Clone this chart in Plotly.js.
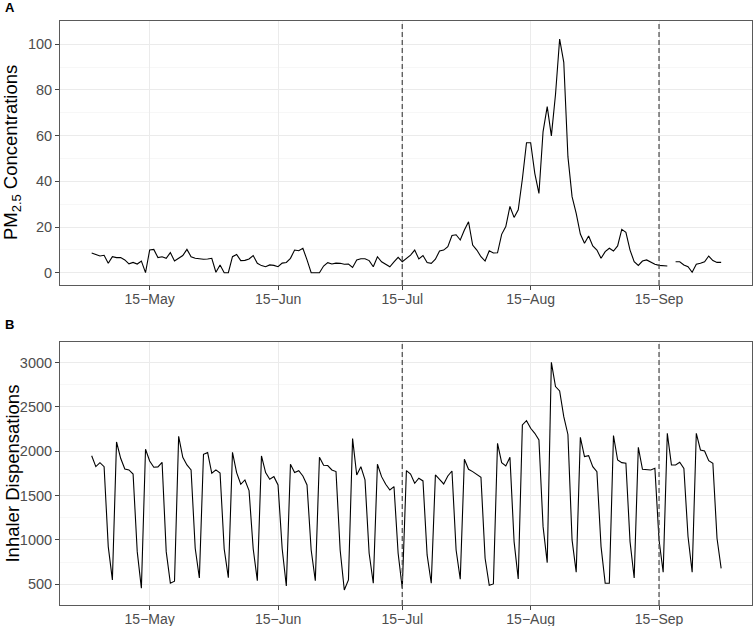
<!DOCTYPE html>
<html>
<head>
<meta charset="utf-8">
<script src="https://cdn.plot.ly/plotly-3.0.1.min.js"></script>
<style>
  html, body { margin: 0; padding: 0; background: #fff; }
  #chart { width: 756px; height: 626px; }
</style>
</head>
<body>
<div id="chart"></div>
<script>
// daily series, 1 May - 30 Sep 2015 (one value per day)
const startDate = '2015-05-01';

const pm25 = [
  8.6, 8.0, 7.3, 7.6, 4.1, 7.0, 6.6, 6.6, 5.6, 3.9, 4.5, 3.8, 5.1, 0, 9.9, 10.2, 6.6, 7.0, 6.3, 8.8,
  5.1, 6.3, 7.5, 10.2, 7.0, 6.3, 6.0, 5.9, 6.0, 6.3, 0.2, 3.4, 0, 0, 7.0, 8.0, 5.3, 5.4, 6.0, 7.5,
  4.1, 3.1, 2.6, 3.4, 3.2, 2.6, 4.2, 4.5, 6.3, 9.9, 9.6, 10.7, 5.6, 0, 0, 0, 2.9, 4.4, 3.8, 4.2,
  4.1, 3.7, 3.8, 2.3, 5.6, 6.1, 6.1, 5.3, 2.6, 7.0, 4.8, 3.8, 2.6, 4.7, 6.7, 4.8, 6.3, 7.7, 9.9, 6.0,
  7.5, 4.5, 4.1, 5.9, 9.5, 9.9, 11.4, 16.3, 16.6, 14.3, 18.7, 22.3, 12.1, 9.9, 7.0, 5.1, 9.6, 8.6, 8.7, 16.8,
  20.2, 29.0, 24.2, 27.5, 41.0, 56.9, 56.9, 43.5, 34.7, 61.8, 72.7, 59.9, 78.0, 102.3, 92.1, 50.8, 33.3, 26.0, 16.9, 12.9,
  16.1, 11.7, 9.9, 6.3, 9.2, 10.7, 9.5, 11.7, 19.0, 17.7, 9.9, 4.8, 3.2, 5.1, 5.6, 4.5, 3.7, 3.2, 3.0, 2.9,
  null, 4.8, 4.8, 3.4, 2.6, 0.2, 3.7, 4.1, 4.8, 7.3, 5.3, 4.5, 4.5
];

const inhaler = [
  1950, 1827, 1872, 1827, 925, 549, 2105, 1921, 1801, 1790, 1744, 868, 455, 2023, 1891, 1820, 1824, 1876, 868, 511,
  534, 2169, 1932, 1846, 1790, 906, 571, 1966, 1985, 1752, 1790, 1756, 898, 575, 1989, 1760, 1628, 1677, 1556, 900,
  541, 1948, 1760, 1684, 1714, 1620, 900, 481, 1854, 1760, 1782, 1722, 1620, 887, 541, 1932, 1842, 1839, 1790, 1771,
  887, 436, 549, 2143, 1733, 1827, 1677, 850, 511, 1854, 1714, 1628, 1564, 1602, 850, 455, 1782, 1744, 1639, 1696,
  1666, 831, 511, 1733, 1684, 1632, 1722, 1778, 887, 556, 1910, 1797, 1771, 1741, 1707, 793, 489, 504, 2090, 1872,
  1835, 1932, 981, 560, 2297, 2346, 2260, 2203, 2128, 1150, 744, 3004, 2730, 2681, 2391, 2190, 1000, 635, 2158, 1940,
  1951, 1827, 1771, 925, 511, 511, 2177, 1902, 1872, 1865, 981, 571, 2045, 1797, 1790, 1790, 1808, 1000, 635, 2203,
  1846, 1846, 1876, 1808, 1038, 635, 2203, 2015, 2004, 1895, 1865, 1019, 680
];

const tickDates = ['2015-05-15', '2015-06-15', '2015-07-15', '2015-08-15', '2015-09-15'];
const tickLabels = ['15\u2212May', '15\u2212Jun', '15\u2212Jul', '15\u2212Aug', '15\u2212Sep'];
const markerDates = ['2015-07-15', '2015-09-15'];

function dayList(start, n) {
  const out = [];
  const d0 = new Date(start + 'T00:00:00Z');
  for (let i = 0; i < n; i++) {
    const d = new Date(d0.getTime() + i * 86400000);
    out.push(d.toISOString().slice(0, 10));
  }
  return out;
}

document.addEventListener('DOMContentLoaded', function () {
  const dates = dayList(startDate, pm25.length);
  const font = 'Liberation Sans, Arial, sans-serif';

  const xBase = {
    type: 'date',
    range: ['2015-04-23 08:24', '2015-10-07 10:48'],
    tickmode: 'array',
    tickvals: tickDates,
    ticktext: tickLabels,
    showgrid: true,
    gridcolor: '#ebebeb',
    gridwidth: 1,
    ticks: 'outside',
    ticklen: 4,
    tickwidth: 1,
    tickcolor: '#444444',
    tickfont: { family: font, size: 14, color: '#4d4d4d' },
    ticklabelstandoff: -3,
    showline: true,
    mirror: true,
    linecolor: '#5a5a5a',
    linewidth: 1,
    zeroline: false,
  };
  const yBase = {
    showgrid: true,
    gridcolor: '#ebebeb',
    gridwidth: 1,
    ticks: 'outside',
    ticklen: 4,
    tickwidth: 1,
    tickcolor: '#444444',
    tickfont: { family: font, size: 14.5, color: '#4d4d4d' },
    showline: true,
    mirror: true,
    linecolor: '#5a5a5a',
    linewidth: 1,
    zeroline: false,
  };

  const traces = [
    { x: dates, y: pm25, type: 'scatter', mode: 'lines', xaxis: 'x', yaxis: 'y',
      line: { color: '#000', width: 1.1 }, connectgaps: false, hoverinfo: 'x+y' },
    { x: dates, y: inhaler, type: 'scatter', mode: 'lines', xaxis: 'x2', yaxis: 'y2',
      line: { color: '#000', width: 1.1 }, hoverinfo: 'x+y' },
  ];

  const shapes = [];
  markerDates.forEach(d => {
    shapes.push({ type: 'line', xref: 'x', yref: 'y domain', x0: d, x1: d, y0: 0, y1: 1,
      line: { color: '#555555', width: 1.3, dash: '5px,3px' } });
    shapes.push({ type: 'line', xref: 'x2', yref: 'y2 domain', x0: d, x1: d, y0: 0, y1: 1,
      line: { color: '#555555', width: 1.3, dash: '5px,3px' } });
  });

  const layout = {
    width: 756,
    height: 626,
    margin: { l: 60, r: 4, t: 21, b: 21 },
    paper_bgcolor: '#fff',
    plot_bgcolor: '#fff',
    showlegend: false,
    font: { family: font },
    xaxis: Object.assign({}, xBase, { anchor: 'y' }),
    yaxis: Object.assign({}, yBase, {
      domain: [0.5479, 1], range: [-5.4, 110.2],
      tickvals: [0, 20, 40, 60, 80, 100],
      minor: { dtick: 10, tick0: 0, showgrid: true, gridcolor: '#f3f3f3', gridwidth: 0.7, ticks: '' },
    }),
    xaxis2: Object.assign({}, xBase, { anchor: 'y2' }),
    yaxis2: Object.assign({}, yBase, {
      domain: [0, 0.4503], range: [266, 3233],
      tickvals: [500, 1000, 1500, 2000, 2500, 3000],
      minor: { dtick: 250, tick0: 0, showgrid: true, gridcolor: '#f3f3f3', gridwidth: 0.7, ticks: '' },
    }),
    shapes: shapes,
    annotations: [
      { text: '<b>A</b>', xref: 'paper', yref: 'paper', x: -0.082, y: 1.0223,
        xanchor: 'left', yanchor: 'middle', showarrow: false, font: { family: font, size: 13, color: '#000' } },
      { text: '<b>B</b>', xref: 'paper', yref: 'paper', x: -0.082, y: 0.4795,
        xanchor: 'left', yanchor: 'middle', showarrow: false, font: { family: font, size: 13, color: '#000' } },
      { text: 'PM<sub>2.5</sub> Concentrations', xref: 'paper', yref: 'paper', x: -0.0693, y: 0.774,
        xanchor: 'center', yanchor: 'middle', textangle: -90, showarrow: false,
        font: { family: font, size: 18.5, color: '#000' } },
      { text: 'Inhaler Dispensations', xref: 'paper', yref: 'paper', x: -0.0693, y: 0.2252,
        xanchor: 'center', yanchor: 'middle', textangle: -90, showarrow: false,
        font: { family: font, size: 18.5, color: '#000' } },
    ],
  };

  Plotly.newPlot('chart', traces, layout, { displayModeBar: false, staticPlot: true });
});
</script>
</body>
</html>
